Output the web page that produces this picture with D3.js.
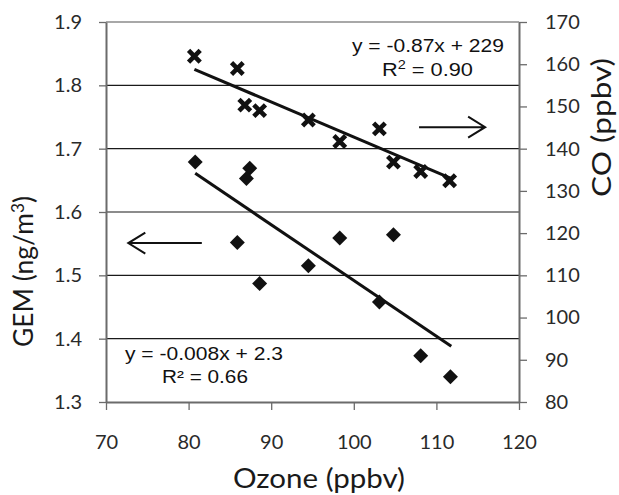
<!DOCTYPE html>
<html>
<head>
<meta charset="utf-8">
<script src="https://cdn.jsdelivr.net/npm/d3@7"></script>
<style>
  html, body { margin: 0; padding: 0; background: #fff; }
  svg { display: block; }
</style>
</head>
<body>
<svg id="chart" width="619" height="495"></svg>
<script>
// ---- data ----
const ozoneTicks = [70, 80, 90, 100, 110, 120];
const gemTicks = [1.3, 1.4, 1.5, 1.6, 1.7, 1.8, 1.9];
const coTicks = [80, 90, 100, 110, 120, 130, 140, 150, 160, 170];

const gemOzone = [80.8, 87.4, 87.0, 85.9, 88.6, 94.5, 98.3, 104.8, 103.1, 108.1, 111.7];
const gemValues = [1.679, 1.669, 1.653, 1.552, 1.487, 1.515, 1.559, 1.564, 1.458, 1.373, 1.340];

const coOzone = [80.7, 85.9, 86.8, 88.6, 94.5, 98.3, 103.1, 104.8, 108.1, 111.6];
const coValues = [161.9, 159.0, 150.3, 149.0, 146.8, 141.7, 144.7, 136.8, 134.6, 132.4];

const gemTrendX = [80.8, 111.8];
const gemTrendY = [1.661, 1.388];
const coTrendX = [80.7, 111.7];
const coTrendY = [158.8, 133.0];

const coEquation = ["y = -0.87x + 229", "0.90"];
const gemEquation = ["y = -0.008x + 2.3", "R² = 0.66"];

// ---- drawing ----
const svg = d3.select("#chart");
const x = d3.scaleLinear().domain([70, 120]).range([106, 519]);
const yL = d3.scaleLinear().domain([1.3, 1.9]).range([402, 22]);
const yR = d3.scaleLinear().domain([80, 170]).range([402, 22]);

const tickFont = "Lato, 'Open Sans', sans-serif";
const axisColor = "#6b6b6b";

// gridlines
svg.append("g").selectAll("line").data(gemTicks.filter(d => d > 1.3 && d < 1.9))
  .join("line")
  .attr("x1", x(70)).attr("x2", x(120))
  .attr("y1", d => yL(d)).attr("y2", d => yL(d))
  .attr("stroke", "#1a1a1a").attr("stroke-width", 1.1);
svg.append("line")
  .attr("x1", x(70)).attr("x2", x(120))
  .attr("y1", yL(1.9)).attr("y2", yL(1.9))
  .attr("stroke", "#a8a8a8").attr("stroke-width", 2);

function styleAxis(g) {
  g.select(".domain").attr("stroke", axisColor).attr("stroke-width", 2);
  g.selectAll(".tick line").attr("stroke", axisColor).attr("stroke-width", 1.3);
  g.selectAll(".tick text").attr("fill", "#2a2a2a")
    .style("font-family", tickFont).style("font-size", "20px");
}

svg.append("g").attr("transform", `translate(${x(70)},0)`)
  .call(d3.axisLeft(yL).tickValues(gemTicks).tickFormat(d3.format(".1f"))
        .tickSize(7).tickSizeOuter(0).tickPadding(17))
  .call(styleAxis);

svg.append("g").attr("transform", `translate(${x(120)},0)`)
  .call(d3.axisRight(yR).tickValues(coTicks).tickFormat(d3.format("d"))
        .tickSize(8).tickSizeOuter(0).tickPadding(18))
  .call(styleAxis);

svg.append("g").attr("transform", `translate(0,${yL(1.3)})`)
  .call(d3.axisBottom(x).tickValues(ozoneTicks).tickFormat(d3.format("d"))
        .tickSize(8).tickSizeOuter(0).tickPadding(25))
  .call(styleAxis);

// fit helper: scale text horizontally (along its own direction) to a target length
function fitText(textSel, target) {
  const w = textSel.node().getComputedTextLength();
  return target / w;
}

// axis titles
const titleFont = "Lato, 'Open Sans', sans-serif";
{
  const g = svg.append("g");
  const t = g.append("text").attr("text-anchor", "middle")
    .style("font-family", titleFont).style("font-size", "27px").attr("fill", "#1a1a1a")
    .text("Ozone (ppbv)");
  const s = fitText(t, 172);
  g.attr("transform", `translate(319,488) scale(${s},1)`);
}
{
  const g = svg.append("g");
  const t = g.append("text").attr("text-anchor", "middle")
    .style("font-family", titleFont).style("font-size", "26px").attr("fill", "#1a1a1a");
  t.append("tspan").text("GEM (ng/m");
  t.append("tspan").attr("dy", "-9").style("font-size", "17px").text("3");
  t.append("tspan").attr("dy", "9").text(")");
  const s = fitText(t, 151);
  g.attr("transform", `translate(33,271.5) rotate(-90) scale(${s},1)`);
}
{
  const g = svg.append("g");
  const t = g.append("text").attr("text-anchor", "middle")
    .style("font-family", titleFont).style("font-size", "26px").attr("fill", "#1a1a1a")
    .text("CO (ppbv)");
  const s = fitText(t, 139);
  g.attr("transform", `translate(611,127.5) rotate(-90) scale(${s},1)`);
}

// trend lines
const line = d3.line();
svg.append("path")
  .attr("d", line(gemTrendX.map((v, i) => [x(v), yL(gemTrendY[i])])))
  .attr("stroke", "#111").attr("stroke-width", 3).attr("fill", "none");
svg.append("path")
  .attr("d", line(coTrendX.map((v, i) => [x(v), yR(coTrendY[i])])))
  .attr("stroke", "#111").attr("stroke-width", 3).attr("fill", "none");

// markers
const diamond = d3.symbol().type(d3.symbolSquare).size(112);
svg.append("g").selectAll("path").data(gemOzone)
  .join("path")
  .attr("d", diamond)
  .attr("transform", (d, i) => `translate(${x(d)},${yL(gemValues[i])}) rotate(45)`)
  .attr("fill", "#111");

const cross = d3.symbol().type(d3.symbolX).size(90);
svg.append("g").selectAll("path").data(coOzone)
  .join("path")
  .attr("d", cross)
  .attr("transform", (d, i) => `translate(${x(d)},${yR(coValues[i])})`)
  .attr("fill", "none").attr("stroke", "#111").attr("stroke-width", 4.6);

// arrows
function arrow(x1, x2, y) {
  const dir = Math.sign(x2 - x1);
  const p = d3.path();
  p.moveTo(x1, y); p.lineTo(x2, y);
  p.moveTo(x2 - dir * 17, y - 10.5); p.lineTo(x2, y); p.lineTo(x2 - dir * 17, y + 10.5);
  svg.append("path").attr("d", p.toString())
    .attr("stroke", "#111").attr("stroke-width", 2).attr("fill", "none");
}
arrow(x(107.9), x(115.9), yR(145.1));
arrow(x(81.6), x(72.7), yL(1.551));

// equations
const eqFont = "'Liberation Sans', Arial, sans-serif";
function eqText(parts, x0, baseline, width) {
  const g = svg.append("g");
  const t = g.append("text").style("font-family", eqFont).style("font-size", "18px").attr("fill", "#111");
  parts(t);
  const s = fitText(t, width);
  g.attr("transform", `translate(${x0},${baseline}) scale(${s},1)`);
}
eqText(t => t.text(coEquation[0]), 352, 52, 152);
eqText(t => {
  t.append("tspan").text("R");
  t.append("tspan").attr("dy", "-7").style("font-size", "12px").text("2");
  t.append("tspan").attr("dy", "7").text(" = " + coEquation[1]);
}, 382, 76, 91);
eqText(t => t.text(gemEquation[0]), 125, 360, 158);
eqText(t => t.text(gemEquation[1]), 162, 383, 86);
</script>
</body>
</html>
